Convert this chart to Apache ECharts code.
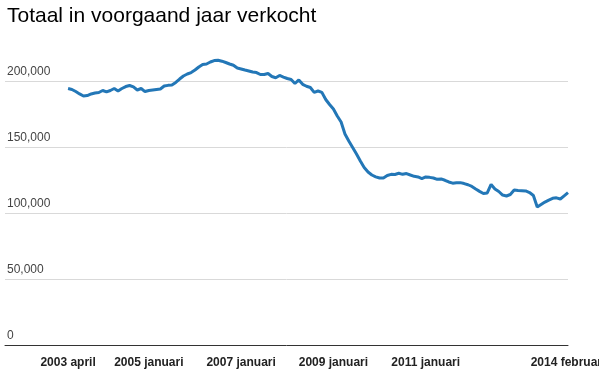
<!DOCTYPE html>
<html>
<head>
<meta charset="utf-8">
<script src="https://cdn.jsdelivr.net/npm/echarts@6/dist/echarts.min.js"></script>
<style>
  html, body { margin: 0; padding: 0; background: #fff; }
  #chart { width: 599px; height: 382px; }
</style>
</head>
<body>
<div id="chart"></div>
<script>
// maandelijkse waarden, 2003 april t/m 2014 februari
var startYear = 2003, startMonth = 3; // april (0-based)
var verkocht = [
  194300, 193600, 192000, 190200, 188600, 189000, 190200, 190900, 191300, 192800,
  191700, 192800, 194300, 192400, 194300, 195800, 196600, 195500, 193200, 194300,
  192000, 192800, 193200, 193600, 193900, 196200, 196700, 197000, 198900, 201500,
  203800, 205300, 206400, 208300, 210600, 212500, 212900, 214400, 215500, 215700,
  215000, 214000, 212900, 211900, 209800, 209100, 208300, 207600, 206800, 206400,
  204900, 204900, 205700, 203400, 202500, 204200, 203000, 201900, 201100, 198100,
  200800, 197500, 196000, 195100, 191400, 192400, 191400, 186000, 182200, 178800,
  173500, 168900, 159800, 154500, 149600, 144700, 139400, 134500, 131100, 128800,
  127400, 126500, 126500, 128400, 129300, 129200, 130100, 129300, 129900, 128800,
  127800, 127300, 126100, 127300, 127000, 126500, 125500, 125800, 124800, 123500,
  122600, 123000, 123000, 122300, 121400, 120100, 118200, 116400, 114800, 115200,
  121600, 118200, 116300, 113600, 112900, 114000, 117400, 117000, 116900, 116700,
  115500, 113300, 104500, 106400, 108300, 109800, 111100, 111500, 110600, 113000,
  115400
];
var maandNamen = ['januari', 'februari', 'maart', 'april', 'mei', 'juni', 'juli',
  'augustus', 'september', 'oktober', 'november', 'december'];
var labelIndexen = [0, 21, 45, 69, 93, 130];
var yTicks = [0, 50000, 100000, 150000, 200000];

function maandLabel(i) {
  var m = startMonth + i;
  return (startYear + Math.floor(m / 12)) + ' ' + maandNamen[m % 12];
}

var lijn = [];
for (var i = 0; i < verkocht.length; i++) {
  lijn.push([i, verkocht[i]]);
}

var chart = echarts.init(document.getElementById('chart'));
chart.setOption({
  animation: false,
  title: {
    text: 'Totaal in voorgaand jaar verkocht',
    left: 2,
    top: 1,
    textStyle: { fontFamily: 'Liberation Sans, Arial', fontSize: 21, fontWeight: 'normal', color: '#000' }
  },
  grid: { left: 5, right: 31, top: 15, bottom: 37, outerBoundsMode: 'none', containLabel: false },
  xAxis: {
    type: 'value',
    min: -16.4,
    max: verkocht.length - 1,
    axisLine: { show: true, lineStyle: { color: '#333', width: 1 } },
    axisTick: { show: false },
    splitLine: { show: false },
    axisLabel: {
      customValues: labelIndexen,
      formatter: function (v) { return maandLabel(Math.round(v)); },
      fontFamily: 'Liberation Sans, Arial',
      fontSize: 12,
      fontWeight: 'bold',
      color: '#222',
      margin: 12
    }
  },
  yAxis: {
    type: 'value',
    min: 0,
    max: 250000,
    interval: 50000,
    axisLine: { show: false },
    axisTick: { show: false },
    splitLine: { show: true, showMaxLine: false, showMinLine: false, lineStyle: { color: '#d9d9d9', width: 1 } },
    axisLabel: {
      inside: true,
      customValues: yTicks,
      align: 'left',
      verticalAlign: 'bottom',
      margin: 2,
      padding: [0, 0, 3, 0],
      fontFamily: 'Liberation Sans, Arial',
      fontSize: 12,
      color: '#444',
      formatter: function (v) { return v.toLocaleString('en-US'); }
    }
  },
  series: [{
    type: 'line',
    data: lijn,
    symbol: 'none',
    lineStyle: { color: '#2377b7', width: 3 },
    itemStyle: { color: '#2377b7' }
  }]
});
</script>
</body>
</html>
